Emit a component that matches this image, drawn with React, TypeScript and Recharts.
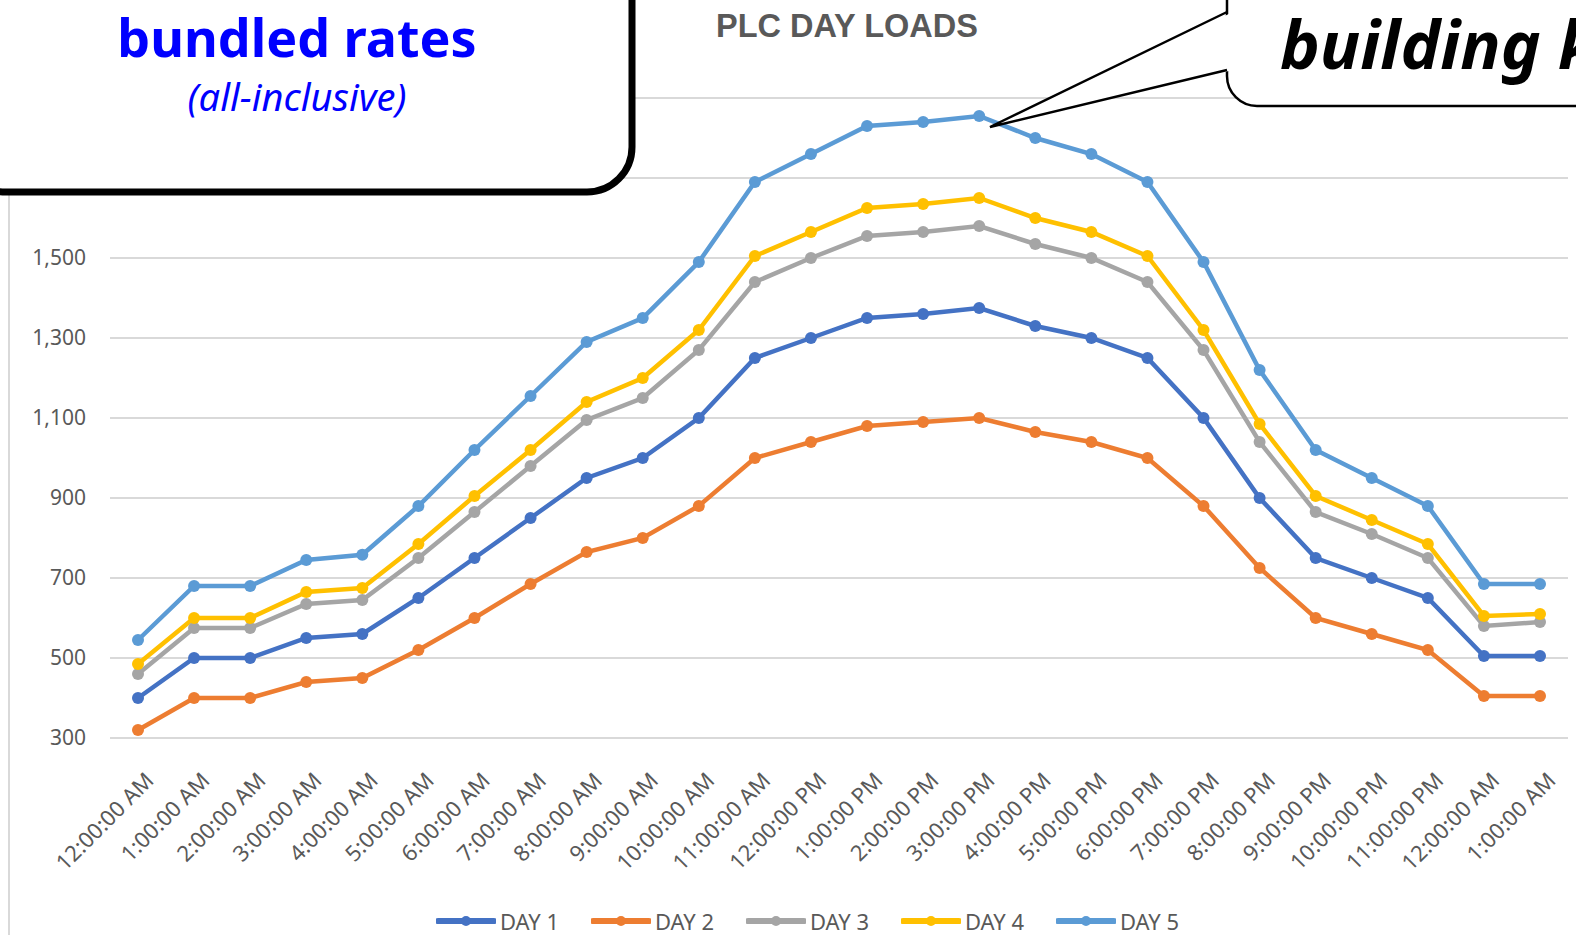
import { LineChart, Line, XAxis, YAxis, CartesianGrid, Legend } from "recharts";

const times = [
  "12:00:00 AM", "1:00:00 AM", "2:00:00 AM", "3:00:00 AM", "4:00:00 AM", "5:00:00 AM",
  "6:00:00 AM", "7:00:00 AM", "8:00:00 AM", "9:00:00 AM", "10:00:00 AM", "11:00:00 AM",
  "12:00:00 PM", "1:00:00 PM", "2:00:00 PM", "3:00:00 PM", "4:00:00 PM", "5:00:00 PM",
  "6:00:00 PM", "7:00:00 PM", "8:00:00 PM", "9:00:00 PM", "10:00:00 PM", "11:00:00 PM",
  "12:00:00 AM", "1:00:00 AM",
];

const day1 = [400, 500, 500, 550, 560, 650, 750, 850, 950, 1000, 1100, 1250, 1300, 1350, 1360, 1375, 1330, 1300, 1250, 1100, 900, 750, 700, 650, 505, 505];
const day2 = [320, 400, 400, 440, 450, 520, 600, 685, 765, 800, 880, 1000, 1040, 1080, 1090, 1100, 1065, 1040, 1000, 880, 725, 600, 560, 520, 405, 405];
const day3 = [460, 575, 575, 635, 645, 750, 865, 980, 1095, 1150, 1270, 1440, 1500, 1555, 1565, 1580, 1535, 1500, 1440, 1270, 1040, 865, 810, 750, 580, 590];
const day4 = [485, 600, 600, 665, 675, 785, 905, 1020, 1140, 1200, 1320, 1505, 1565, 1625, 1635, 1650, 1600, 1565, 1505, 1320, 1085, 905, 845, 785, 605, 610];
const day5 = [545, 680, 680, 745, 758, 880, 1020, 1155, 1290, 1350, 1490, 1690, 1760, 1830, 1840, 1855, 1800, 1760, 1690, 1490, 1220, 1020, 950, 880, 685, 685];

const yTicks = [300, 500, 700, 900, 1100, 1300, 1500, 1700, 1900];

const series = [
  { key: "day1", name: "DAY 1", color: "#4472C4", values: day1 },
  { key: "day2", name: "DAY 2", color: "#ED7D31", values: day2 },
  { key: "day3", name: "DAY 3", color: "#A5A5A5", values: day3 },
  { key: "day4", name: "DAY 4", color: "#FFC000", values: day4 },
  { key: "day5", name: "DAY 5", color: "#5B9BD5", values: day5 },
];

const data = times.map((time, i) => {
  const row: Record<string, string | number> = { time };
  series.forEach(s => { row[s.key] = s.values[i]; });
  return row;
});

const LABEL = "#595959";
const FONT = "'Noto Sans', sans-serif";

function TimeTick({ x, y, payload }: any) {
  const ex = x + 17;
  const ey = y + 44;
  return (
    <text x={ex} y={ey} transform={`rotate(-45 ${ex} ${ey})`} textAnchor="end"
      fill={LABEL} fontSize={22} fontFamily={FONT}>
      {payload.value}
    </text>
  );
}

function LegendRow({ payload }: any) {
  return (
    <div style={{ display: "flex", fontFamily: FONT, fontSize: 22, lineHeight: "22px", color: LABEL }}>
      {(payload || []).map((p: any) => (
        <div key={p.value} style={{ width: 155, height: 22, display: "flex", alignItems: "center" }}>
          <svg width={60} height={14}>
            <line x1={2} y1={7} x2={58} y2={7} stroke={p.color} strokeWidth={6} strokeLinecap="round" />
            <circle cx={30} cy={7} r={5} fill={p.color} />
          </svg>
          <span style={{ marginLeft: 4 }}>{p.value}</span>
        </div>
      ))}
    </div>
  );
}

export default function App() {
  return (
    <div style={{ position: "absolute", left: 0, top: 0, width: 1576, height: 935, background: "#fff", overflow: "hidden" }}>
      <LineChart width={1576} height={935} data={data} margin={{ top: 98, right: 8, bottom: 47, left: 10 }}>
        <CartesianGrid vertical={false} stroke="#D9D9D9" strokeWidth={2} />
        <XAxis dataKey="time" axisLine={false} tickLine={false} tickSize={0} tickMargin={0}
          height={150} interval={0} padding={{ left: 28, right: 28 }} tick={<TimeTick />} />
        <YAxis domain={[300, 1900]} ticks={yTicks} axisLine={false} tickLine={false} tickSize={0}
          tickMargin={24} width={100} tickFormatter={(v: number) => v.toLocaleString("en-US")}
          tick={{ fill: LABEL, fontSize: 21, fontFamily: FONT }} />
        <Legend verticalAlign="middle" layout="horizontal" align="center" content={<LegendRow />}
          wrapperStyle={{ top: 910, left: 436, width: 900, height: 22 }} />
        {series.map(s => (
          <Line key={s.key} dataKey={s.key} name={s.name} stroke={s.color} strokeWidth={4.5}
            dot={{ r: 6, fill: s.color, stroke: s.color, strokeWidth: 0 }} activeDot={false}
            isAnimationActive={false} />
        ))}
      </LineChart>
      <svg width={1576} height={935} style={{ position: "absolute", left: 0, top: 0, pointerEvents: "none" }}>
        <line x1={9} y1={0} x2={9} y2={935} stroke="#D9D9D9" strokeWidth={2} />
        <text x={847} y={37} textAnchor="middle" fill={LABEL} fontSize={32.5} fontWeight="bold"
          fontFamily="'Liberation Sans', sans-serif">PLC DAY LOADS</text>
        <rect x={-40} y={-60} width={672} height={252} rx={45} ry={45} fill="#fff" stroke="#000" strokeWidth={7} />
        <text x={297} y={57} textAnchor="middle" fill="#0000FF" fontSize={52} fontWeight="bold" fontFamily={FONT}>bundled rates</text>
        <text x={297} y={111} textAnchor="middle" fill="#0000FF" fontSize={38} fontStyle="italic" fontFamily={FONT}>(all-inclusive)</text>
        <rect x={1227} y={-40} width={420} height={146} rx={30} ry={30} fill="#fff" stroke="#000" strokeWidth={2.5} />
        <polygon points="1233,12 990,127 1233,70" fill="#fff" />
        <polyline points="1227,12 990,127 1227,70" fill="none" stroke="#000" strokeWidth={2.5} />
        <text x={1280} y={69} fill="#000" fontSize={67} fontWeight="bold" fontStyle="italic" fontFamily={FONT}>building k</text>
      </svg>
    </div>
  );
}
